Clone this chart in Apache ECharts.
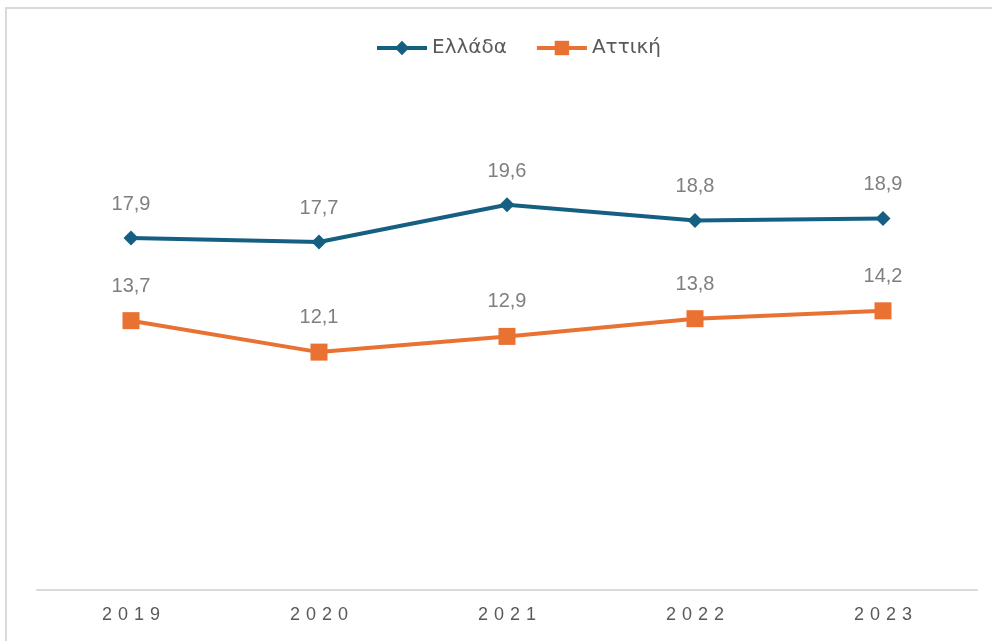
<!DOCTYPE html>
<html><head><meta charset="utf-8">
<script src="https://cdn.jsdelivr.net/npm/echarts@6/dist/echarts.min.js"></script>
<style>html,body{margin:0;padding:0;background:#fff}#c{width:992px;height:641px}</style>
</head><body><div id="c"></div>
<script>
const years = ['2019','2020','2021','2022','2023'];
const greece = [17.9, 17.7, 19.6, 18.8, 18.9];
const attica = [13.7, 12.1, 12.9, 13.8, 14.2];
const names = ['Ελλάδα', 'Αττική'];

const chart = echarts.init(document.getElementById('c'));
const lbl = {
  show: true, position: 'top', distance: 16,
  color: '#7f7f7f', fontSize: 20, fontFamily: 'Liberation Sans',
  formatter: p => String(p.value).replace('.', ',')
};
chart.setOption({
  animation: false,
  graphic: [{type:'rect', shape:{x:6,y:8,width:1000,height:700}, style:{fill:'none', stroke:'#d9d9d9', lineWidth:2}, silent:true}],
  legend: {
    top: 33, left: 370, itemWidth: 50, itemHeight: 18, itemGap: 28,
    lineStyle: {width: 4},
    textStyle: {fontSize: 20, color: '#595959', fontFamily: 'DejaVu Sans'}
  },
  grid: {left: 37, right: 15, top: 98.5, bottom: 51},
  xAxis: {
    type: 'category', data: years, boundaryGap: true,
    axisLine: {lineStyle: {color: '#d9d9d9', width: 2}},
    axisTick: {show: false},
    axisLabel: {color: '#595959', fontSize: 18, fontFamily: 'Liberation Sans', margin: 16,
      formatter: v => v.split('').join('\u2004')}
  },
  yAxis: {type: 'value', min: 0, max: 25, show: false, splitLine: {show: false}},
  series: [
    {name: names[0], type: 'line', data: greece, symbol: 'diamond', symbolSize: 15,
     lineStyle: {width: 4, color: '#156082'}, itemStyle: {color: '#156082'}, label: lbl},
    {name: names[1], type: 'line', data: attica, symbol: 'rect', symbolSize: 17,
     lineStyle: {width: 4, color: '#E97132'}, itemStyle: {color: '#E97132'}, label: lbl}
  ]
});
</script></body></html>
